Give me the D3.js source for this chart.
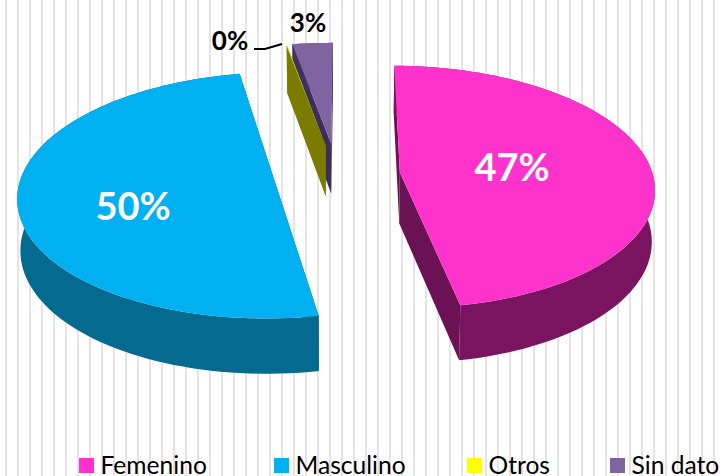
<!DOCTYPE html>
<html><head><meta charset="utf-8"><style>html,body{margin:0;padding:0;background:#fff;overflow:hidden}svg{display:block}text{font-family:Lato,sans-serif}</style>
<script src="https://cdn.jsdelivr.net/npm/d3@7"></script></head><body><svg id="c" width="721" height="476"></svg>
<script>
(function(){
const categories=["Femenino","Masculino","Otros","Sin dato"];
const values=[47,50,0.05,2.95];
const labels=["47%","50%","0%","3%"];
const topColors=["#ff33cc","#00b0f0","#ffff00","#8064a2"];
const arcWall=["#7a1460","#056a90","#7f7f00","#3f3163"];
const radialWall=["#6a1254","#005a7e","#7b7b00","#3a2f5c"];
const explode=[0.25,0.25,0.255,0.27];

const W=721,H=476,deg=Math.PI/180;
const cx=337,cy=175,R=253,A=120,P=0.12,wallSx=0.99,wallSy=1.03,wallD=51;
const svg=d3.select("#c");
svg.append("g").selectAll("rect").data(d3.range(1,61)).join("rect")
 .attr("x",i=>i*12-7).attr("y",0).attr("width",2).attr("height",H).attr("fill","#e4e4e4");

const pie=d3.pie().sort(null).startAngle(0.3*deg).endAngle(360.3*deg);
const arcs=pie(values);
const proj=(X,Y)=>{const k=1/(1-P*Y);return [R*X*k,A*Y*k];};
const topPt=(p)=>[cx+p[0],cy+p[1]];
const botPt=(p)=>[cx+p[0]*wallSx,cy+p[1]*wallSy+wallD];
const line=d3.line();

const order=[3,2,0,1];
order.forEach(i=>{
 const a=arcs[i],mid=(a.startAngle+a.endAngle)/2,e=explode[i];
 const ox=Math.sin(mid)*e,oy=-Math.cos(mid)*e;
 const span=a.endAngle-a.startAngle,n=Math.max(2,Math.ceil(span/deg/2));
 const apex=proj(ox,oy);
 const rim=d3.range(n+1).map(j=>{const t=a.startAngle+span*j/n;return proj(ox+Math.sin(t),oy-Math.cos(t));});
 const g=svg.append("g");
 [rim[0],rim[n]].forEach(p=>{
  g.append("path").attr("d",line([topPt(apex),topPt(p),botPt(p),botPt(apex)])+"Z").attr("fill",radialWall[i]);
 });
 g.append("path").attr("d",line(rim.map(topPt).concat(rim.map(botPt).reverse()))+"Z").attr("fill",arcWall[i]);
 g.append("path").attr("d",line([topPt(apex)].concat(rim.map(topPt)))+"Z").attr("fill",topColors[i]);
});

svg.append("path").attr("d",line([[254,49],[265,49],[282,44]])).attr("fill","none").attr("stroke","#000").attr("stroke-width",2);

const lab=[[512,181,38,"#fff"],[133,220,38,"#fff"],[230,50,26,"#000"],[308,32,26,"#000"]];
lab.forEach((l,i)=>svg.append("text").attr("x",l[0]).attr("y",l[1]).attr("text-anchor","middle").attr("font-size",l[2]).attr("font-weight",700).attr("fill",l[3]).text(labels[i]));

const legendX=[79,274,467,610];
categories.forEach((c,i)=>{
 svg.append("rect").attr("x",legendX[i]).attr("y",458).attr("width",15).attr("height",15).attr("fill",topColors[i]);
 svg.append("text").attr("x",legendX[i]+21.5).attr("y",474).attr("font-size",24.6).attr("fill","#000").text(c);
});
})();
</script></body></html>
